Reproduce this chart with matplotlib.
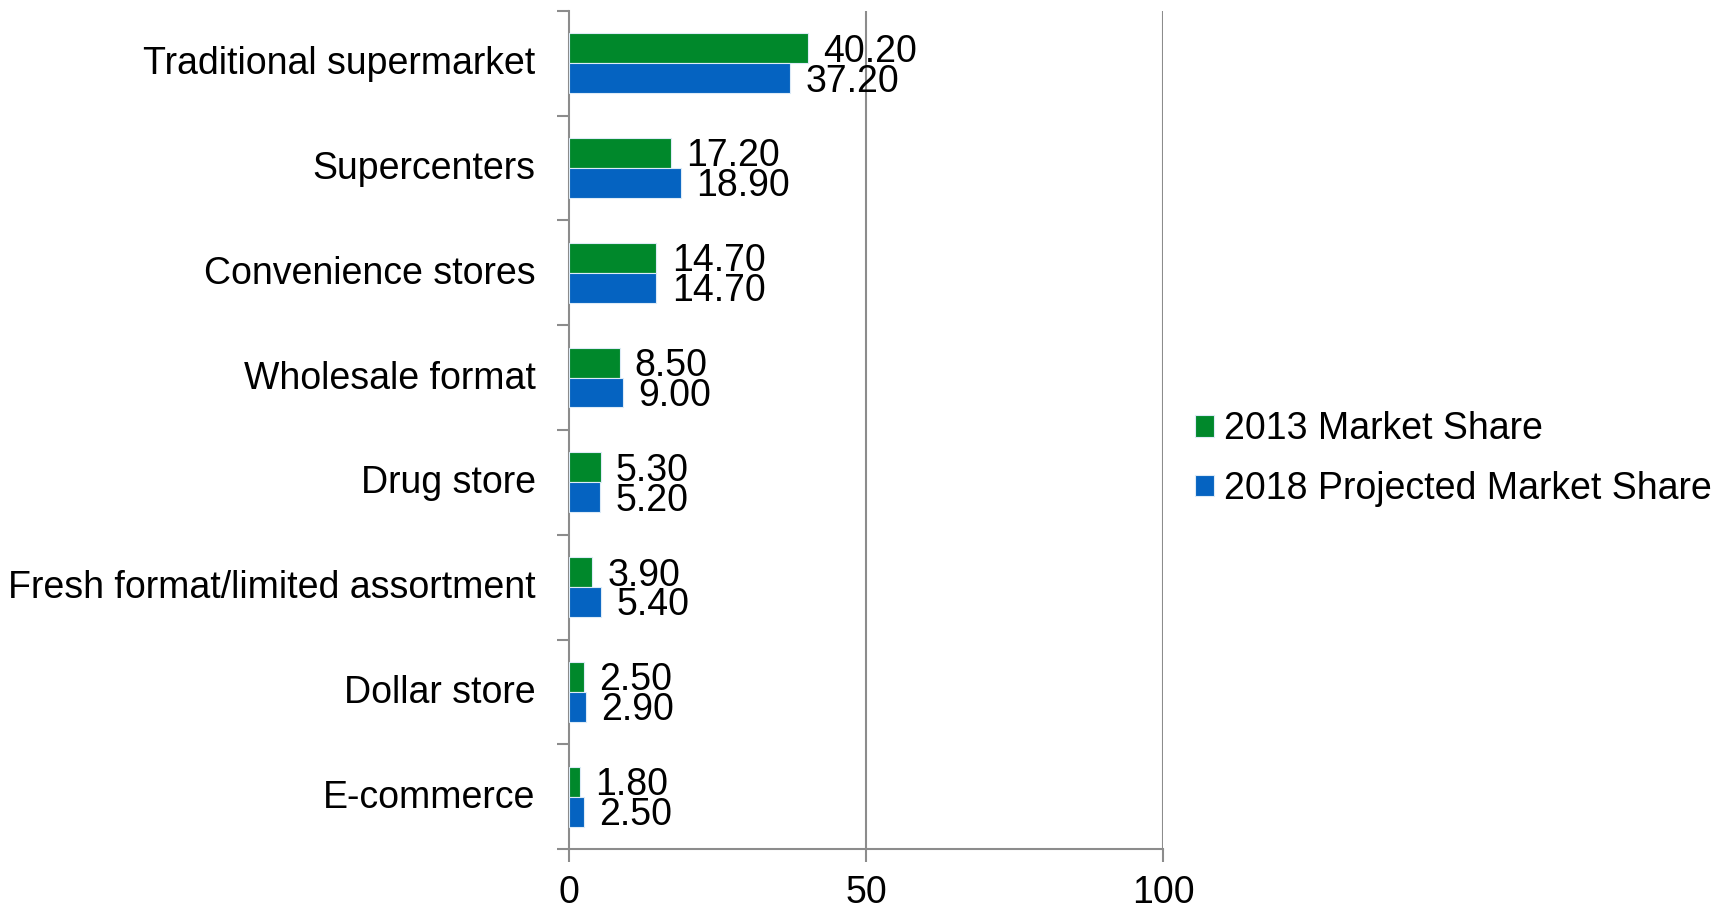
import matplotlib
matplotlib.use('Agg')
import matplotlib.pyplot as plt
from matplotlib.transforms import ScaledTranslation
import numpy as np

plt.rcParams['font.family'] = ['Liberation Sans', 'DejaVu Sans']

categories = ['Traditional supermarket', 'Supercenters', 'Convenience stores',
              'Wholesale format', 'Drug store', 'Fresh format/limited assortment',
              'Dollar store', 'E-commerce']
share_2013 = [40.2, 17.2, 14.7, 8.5, 5.3, 3.9, 2.5, 1.8]
share_2018 = [37.2, 18.9, 14.7, 9.0, 5.2, 5.4, 2.9, 2.5]
x_ticks = [0, 50, 100]

GREEN = '#00882B'
BLUE = '#0563C1'
GRID = '#8C8C8C'
FS = 27

fig = plt.figure(figsize=(17.25, 9.1), dpi=100)
ax = fig.add_axes([0.3299, 0.067, 0.3443, 0.921])

y = np.arange(len(categories))
h = 0.285
ax.barh(y - h / 2, share_2013, height=h, color=GREEN, edgecolor='#DDEBF7', linewidth=0.8,
        label='2013 Market Share', zorder=3)
ax.barh(y + h / 2, share_2018, height=h, color=BLUE, edgecolor='#DDEBF7', linewidth=0.8,
        label='2018 Projected Market Share', zorder=3)

# 값 라벨
for i in range(len(categories)):
    ax.annotate(f'{share_2013[i]:.2f}', (share_2013[i], y[i] - h / 2), xytext=(11, -2.4),
                textcoords='offset points', va='center', ha='left', fontsize=FS)
    ax.annotate(f'{share_2018[i]:.2f}', (share_2018[i], y[i] + h / 2), xytext=(11, -2.4),
                textcoords='offset points', va='center', ha='left', fontsize=FS)

ax.set_xlim(0, 100)
ax.set_ylim(len(categories) - 0.5, -0.5)

# y축: 라벨은 가운데, 눈금은 경계
ax.set_yticks(y)
ax.set_yticklabels(categories, fontsize=FS)
ax.set_yticks(np.arange(len(categories) + 1) - 0.5, minor=True)
ax.tick_params(axis='y', which='major', length=0, pad=24)
ax.tick_params(axis='y', which='minor', length=9, width=1.5, color=GRID, direction='out')
shift = ScaledTranslation(0, 2.2 / 72, fig.dpi_scale_trans)
for lbl in ax.get_yticklabels():
    lbl.set_transform(lbl.get_transform() + shift)

ax.set_xticks(x_ticks)
ax.set_xticklabels([str(v) for v in x_ticks], fontsize=FS)
ax.tick_params(axis='x', length=9, width=1.5, color=GRID, direction='out', pad=10)

for v in x_ticks[1:]:
    ax.axvline(v, color=GRID, linewidth=1.5, zorder=1)

for side in ['top', 'right']:
    ax.spines[side].set_visible(False)
for side in ['left', 'bottom']:
    ax.spines[side].set_color(GRID)
    ax.spines[side].set_linewidth(1.5)

fig.legend(loc='center left', bbox_to_anchor=(0.693, 0.4956), frameon=False, fontsize=FS,
           handlelength=0.5, handleheight=0.5, handletextpad=0.25, labelspacing=0.62,
           borderpad=0, borderaxespad=0)

fig.savefig('out.png', dpi=100)
plt.close(fig)
